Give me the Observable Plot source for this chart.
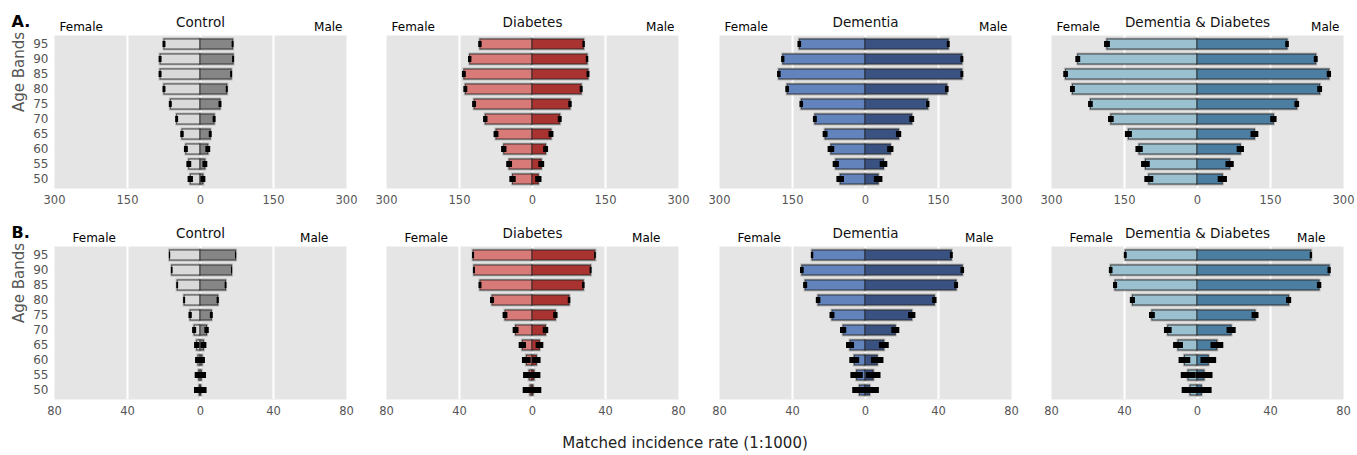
<!DOCTYPE html>
<html>
<head>
<meta charset="utf-8">
<script src="https://cdn.jsdelivr.net/npm/d3@7"></script>
<script src="https://cdn.jsdelivr.net/npm/@observablehq/plot@0.6"></script>
<style>
  html, body { margin: 0; padding: 0; background: #fff; }
  #wrap { position: relative; width: 1357px; height: 455px; font-family: "DejaVu Sans", sans-serif; }
  #wrap svg { position: absolute; overflow: visible; }
  #wrap svg g[aria-label="x-axis tick label"] { font-size: 11.5px; }
  #wrap svg g[aria-label="y-axis tick label"] { font-size: 12px; }
  #xlabel { position: absolute; left: 0; width: 1370px; top: 434px; line-height: 18px; text-align: center; font-size: 15px; color: #222; }
</style>
</head>
<body>
<div id="wrap"><div id="xlabel">Matched incidence rate (1:1000)</div></div>
<script>
// ---------- data (age bands 50..95) ----------
const ages = [50, 55, 60, 65, 70, 75, 80, 85, 90, 95];
const conditions = ["Control", "Diabetes", "Dementia", "Dementia & Diabetes"];
const rowLabels = ["A.", "B."];
const ticksA = [-300, -150, 0, 150, 300];
const ticksB = [-80, -40, 0, 40, 80];

// Row A
const controlFemaleA = [20, 23, 29, 37, 48, 61, 74, 82, 82, 74];
const controlFemaleErrA = [5.5, 5, 4, 3.5, 3, 3, 3, 3, 3, 3];
const controlMaleA = [6, 10, 16, 21, 29, 41, 55, 64, 68, 67];
const controlMaleErrA = [5, 5, 5, 3, 3, 3, 2, 2, 2, 2];

const diabetesFemaleA = [40, 47, 58, 74, 96, 119, 137, 140, 128, 107];
const diabetesFemaleErrA = [6.5, 6, 5.5, 5, 4.5, 4, 4, 4, 3.5, 3.5];
const diabetesMaleA = [13, 19, 28, 39, 57, 78, 101, 115, 113, 106];
const diabetesMaleErrA = [6.5, 6, 5, 5, 4, 3.5, 3, 3, 2.5, 2.5];

const dementiaFemaleA = [51, 60, 70, 82, 103, 131, 160, 177, 169, 135];
const dementiaFemaleErrA = [7.8, 6.4, 6.8, 5, 4, 3.7, 3.7, 3.7, 3.4, 3.7];
const dementiaMaleA = [27, 38, 52, 69, 96, 129, 168, 199, 199, 171];
const dementiaMaleErrA = [8.8, 7.8, 6.4, 5.4, 5, 3.4, 3.7, 3, 3, 3];

const demDiabFemaleA = [99, 106, 119, 141, 177, 219, 256, 270, 245, 185];
const demDiabFemaleErrA = [9.2, 8.9, 7.5, 7.2, 5.8, 4.8, 5, 4.8, 5, 6];
const demDiabMaleA = [52, 67, 89, 118, 157, 205, 252, 271, 244, 185];
const demDiabMaleErrA = [9.5, 8.5, 7.5, 8, 6.5, 4.8, 5, 4.4, 4, 3.7];

// Row B
const controlFemaleB = [0.4, 0.7, 1.1, 1.8, 3.2, 5.4, 8.7, 12.5, 15.5, 16.7];
const controlFemaleErrB = [2.9, 2.2, 1.6, 1.45, 1.1, 0.9, 0.55, 0.5, 0.45, 0.35];
const controlMaleB = [0.4, 0.7, 1.1, 1.9, 3.6, 6.2, 9.7, 14, 17.3, 19.5];
const controlMaleErrB = [3.2, 2.6, 1.6, 1.6, 1.2, 0.8, 0.6, 0.5, 0.3, 0.3];

const diabetesFemaleB = [1.1, 1.6, 3.1, 5.3, 9, 14.8, 21.9, 28.5, 31.8, 32.3];
const diabetesFemaleErrB = [4, 3.3, 2.4, 2, 1.6, 1.3, 1.1, 0.8, 0.55, 0.55];
const diabetesMaleB = [0.5, 1.1, 2.4, 4.1, 7.4, 12.8, 20.3, 28.1, 32.1, 34.5];
const diabetesMaleErrB = [4.6, 3.5, 2.3, 2.1, 1.5, 1.2, 0.7, 0.7, 0.55, 0.45];

const dementiaFemaleB = [3.1, 4.6, 5.9, 8.2, 12, 18.1, 25.7, 32.8, 34.6, 29];
const dementiaFemaleErrB = [3.9, 3.4, 2.7, 2.2, 1.7, 1.35, 1.25, 1.1, 1, 0.65];
const dementiaMaleB = [2.5, 4.5, 6.7, 10.3, 16.6, 25.6, 38, 49.9, 53.3, 47.3];
const dementiaMaleErrB = [5.1, 4, 3.4, 2.7, 2.2, 2, 1.2, 1.1, 1, 0.8];

const demDiabFemaleB = [3.8, 4.9, 6.9, 10.4, 16, 24.7, 35.4, 44.9, 47.3, 39.3];
const demDiabFemaleErrB = [4.6, 4, 3.2, 2.7, 2.1, 1.6, 1.4, 1.1, 1, 0.8];
const demDiabMaleB = [2.4, 3.8, 6.2, 10.9, 18.7, 31.8, 50.2, 66.9, 72.4, 62.4];
const demDiabMaleErrB = [5.6, 4.7, 4.3, 3.5, 2.5, 1.9, 1.4, 1.2, 0.9, 0.65];

const femaleColors = ["#dadada", "#d87b78", "#6283bc", "#9bc0d0"];
const maleColors = ["#868686", "#a83330", "#3a5282", "#4b7ea0"];

const rows = [
  {
    ticks: ticksA, top: 0,
    femaleLeft: 5, maleRight: 4,
    female: [controlFemaleA, diabetesFemaleA, dementiaFemaleA, demDiabFemaleA],
    femaleErr: [controlFemaleErrA, diabetesFemaleErrA, dementiaFemaleErrA, demDiabFemaleErrA],
    male: [controlMaleA, diabetesMaleA, dementiaMaleA, demDiabMaleA],
    maleErr: [controlMaleErrA, diabetesMaleErrA, dementiaMaleErrA, demDiabMaleErrA]
  },
  {
    ticks: ticksB, top: 211,
    femaleLeft: 18, maleRight: 18,
    female: [controlFemaleB, diabetesFemaleB, dementiaFemaleB, demDiabFemaleB],
    femaleErr: [controlFemaleErrB, diabetesFemaleErrB, dementiaFemaleErrB, demDiabFemaleErrB],
    male: [controlMaleB, diabetesMaleB, dementiaMaleB, demDiabMaleB],
    maleErr: [controlMaleErrB, diabetesMaleErrB, dementiaMaleErrB, demDiabMaleErrB]
  }
];

// ---------- drawing ----------
const panelLefts = [54, 386, 719, 1051];
const panelW = 292;
const mT = 35, mB = 25, mR = 12;
const plotH = 153;
const wrap = document.getElementById("wrap");
const ageDomain = ages.slice().reverse();

rows.forEach((row, r) => {
  conditions.forEach((cond, c) => {
    const mL = c === 0 ? 54 : 12;
    const lim = row.ticks[row.ticks.length - 1];
    const grid = row.ticks.filter(t => Math.abs(t) !== lim);
    const fem = ages.map((a, i) => ({age: a, v: -row.female[c][i], e: row.femaleErr[c][i]}));
    const mal = ages.map((a, i) => ({age: a, v: row.male[c][i], e: row.maleErr[c][i]}));
    const both = fem.concat(mal);

    const marks = [
      Plot.frame({fill: "#e5e5e5", stroke: null}),
      Plot.ruleX(grid, {stroke: "#fff", strokeWidth: 2}),
      // soft halo around bars
      Plot.barX(both, {x1: 0, x2: "v", y: "age", fill: "none", stroke: "#777", strokeOpacity: 0.4, strokeWidth: 3}),
      Plot.barX(fem, {x1: 0, x2: "v", y: "age", fill: femaleColors[c], stroke: "#222", strokeOpacity: 0.8, strokeWidth: 1}),
      Plot.barX(mal, {x1: 0, x2: "v", y: "age", fill: maleColors[c], stroke: "#222", strokeOpacity: 0.8, strokeWidth: 1}),
      Plot.barX(both, {x1: d => d.v - d.e, x2: d => d.v + d.e, y: "age", fill: "#000", insetTop: 2, insetBottom: 2}),
      Plot.axisX({ticks: row.ticks, tickSize: 0, tickPadding: 7, tickFormat: d => Math.abs(d), fontSize: 11.5, color: "#555", label: null}),
      Plot.text([cond], {frameAnchor: "top", lineAnchor: "middle", dy: -13, fontSize: 13.5, fill: "#111"}),
      Plot.text(["Female"], {frameAnchor: "top-left", lineAnchor: "middle", textAnchor: "start", dx: row.femaleLeft, dy: -8, fontSize: 12, fill: "#000"}),
      Plot.text(["Male"], {frameAnchor: "top-right", lineAnchor: "middle", textAnchor: "end", dx: -row.maleRight, dy: -8, fontSize: 12, fill: "#000"})
    ];
    if (c === 0) {
      marks.push(Plot.axisY({tickSize: 0, tickPadding: 6, fontSize: 12, color: "#555", label: null}));
      marks.push(Plot.text(["Age Bands"], {frameAnchor: "left", lineAnchor: "middle", dx: -35, rotate: -90, fontSize: 15, fill: "#555"}));
      marks.push(Plot.text([rowLabels[r]], {frameAnchor: "top-left", lineAnchor: "middle", textAnchor: "start", dx: -43, dy: -14, fontSize: 16, fontWeight: "bold", fill: "#000"}));
    } else {
      marks.push(Plot.axisY({ticks: [], label: null}));
    }

    const svg = Plot.plot({
      width: mL + panelW + mR,
      height: mT + plotH + mB,
      marginLeft: mL, marginRight: mR, marginTop: mT, marginBottom: mB,
      style: {fontFamily: "DejaVu Sans, sans-serif", fontSize: "11.5px", background: "transparent", overflow: "visible"},
      x: {domain: [-lim, lim]},
      y: {type: "band", domain: ageDomain, paddingInner: 0.36, paddingOuter: 0.1},
      marks
    });
    svg.style.left = (panelLefts[c] - mL) + "px";
    svg.style.top = row.top + "px";
    wrap.appendChild(svg);
  });
});
</script>
</body>
</html>
